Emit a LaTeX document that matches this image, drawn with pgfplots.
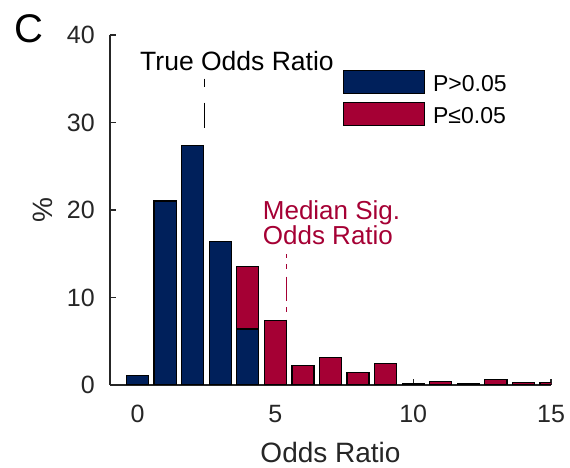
\documentclass[border=0pt]{standalone}
\usepackage{pgfplots}
\usepackage{pgfplotstable}
\pgfplotsset{compat=1.18}
\usepackage{fontspec}
\setmainfont{Liberation Sans}
\definecolor{sigblue}{RGB}{0,32,91}
\definecolor{sigred}{RGB}{165,0,52}
\definecolor{axgray}{RGB}{38,38,38}

\pgfplotstableread{
x blue red
0 1.05 0
1 21.0 0.12
2 27.35 0
3 16.4 0
4 6.4 7.1
5 0 7.4
6 0 2.25
7 0 3.1
8 0 1.45
9 0 2.5
10 0 0.12
11 0 0.42
12 0 0.2
13 0 0.65
14 0 0.3
15 0 0.27
}\datatable

\pgfplotsset{
  common/.style={scale only axis, width=441pt, height=350pt,
    xmin=-1, xmax=15, ymin=0, ymax=40},
  boxlegend/.style={legend image code/.code={
    \draw[##1, line width=1pt] (0pt,-2.3pt) rectangle (81pt,21pt);}},
}

\begin{document}
\begin{tikzpicture}
\path[use as bounding box] (-110pt,-83pt) rectangle (460pt,385pt);
% background axis: reference lines and annotations
\begin{axis}[common, hide axis, clip=false]
\addplot[black, line width=1.2pt, dash pattern=on 8pt off 16pt on 27pt off 40pt]
  coordinates {(2.42,35.0) (2.42,29.4)};
\addplot[sigred, line width=1.2pt, dash pattern=on 24pt off 6.5pt on 5pt off 7.5pt, dash phase=20.5pt]
  coordinates {(5.40,14.97) (5.40,0)};
\node[anchor=base west, inner sep=0pt, font=\fontsize{26.5}{30}\selectfont] at (axis cs:0.09,35.89) {True Odds Ratio};
\node[anchor=base west, inner sep=0pt, text=sigred, align=left, font=\fontsize{26}{21}\selectfont] at (axis cs:4.54,16.08) {Median Sig.\\Odds Ratio};
\node[anchor=center, inner sep=0pt, font=\fontsize{40}{46}\selectfont] at (axis cs:-3.94,40.69) {C};
\end{axis}
% main axis
\begin{axis}[common,
  ybar stacked, bar width=0.8,
  axis lines=left,
  axis line style={-, line width=1.2pt, draw=axgray},
  xtick={0,5,10,15}, ytick={0,10,20,30,40},
  tick align=inside, major tick length=6pt,
  tick style={line width=1.2pt, draw=axgray},
  /pgf/number format/assume math mode=true,
  ticklabel style={font=\fontsize{25}{30}\selectfont, text=axgray},
  xticklabel style={inner sep=0pt, anchor=north, yshift=-20pt},
  yticklabel style={inner sep=0pt, anchor=east, xshift=-15pt},
  xlabel={Odds Ratio}, ylabel={\%},
  label style={font=\fontsize{28}{32}\selectfont, text=axgray},
  xlabel style={at={(axis description cs:0.5,-0.22)}, anchor=base, inner sep=0pt},
  ylabel style={at={(axis description cs:-0.152,0.5)}, anchor=center, inner sep=0pt},
  legend style={draw=none, fill=none, inner sep=0pt, outer sep=0pt,
    at={(0.5277,0.9)}, anchor=north west,
    row sep=7.4pt, column sep=8.4pt,
    nodes={inner sep=0pt, outer sep=0pt},
    cells={anchor=base west},
    font=\fontsize{23}{27}\selectfont},
]
\addplot[fill=sigblue, draw=black, line width=1.2pt, boxlegend] table[x=x, y=blue] {\datatable};
\addplot[fill=sigred, draw=black, line width=1.2pt, boxlegend] table[x=x, y=red] {\datatable};
\legend{P>0.05, P≤0.05}
\end{axis}
\end{tikzpicture}
\end{document}
